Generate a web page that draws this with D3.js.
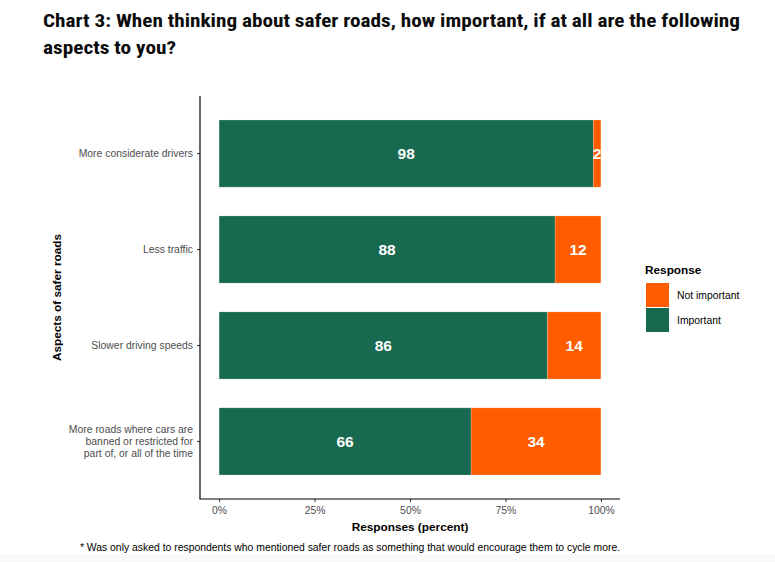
<!DOCTYPE html>
<html>
  <head>
  <title>Chart 3: Safer roads</title>
  <style>
    body, html {
      margin: 0;
      padding: 0;
      background: #fff;
    }
    #svg {
      display: block;
      font-family: "Liberation Sans", Arial, sans-serif;
    }
  </style>
  </head>
  <body>
    <svg id="svg" width="775" height="562"></svg>
  <script src="https://cdn.jsdelivr.net/npm/d3@7"></script>
  <script>
    // data
    const aspects = [
      "More considerate drivers",
      "Less traffic",
      "Slower driving speeds",
      "More roads where cars are banned or restricted for part of, or all of the time"
    ]
    const aspectLines = [
      ["More considerate drivers"],
      ["Less traffic"],
      ["Slower driving speeds"],
      ["More roads where cars are", "banned or restricted for", "part of, or all of the time"]
    ]
    const important = [98, 88, 86, 66]
    const notImportant = [2, 12, 14, 34]
    const xTicks = [0, 25, 50, 75, 100]
    const responses = ["Not important", "Important"]

    const green = "#176a50"
    const orange = "#ff5c00"

    function renderChart() {
      const svg = d3.select('#svg')

      const panel = { left: 200, right: 620, top: 96, bottom: 499 }

      const xScale = d3.scaleLinear()
        .domain([-5, 105])
        .range([panel.left, panel.right])

      const yScale = d3.scaleBand()
        .domain(aspects)
        .range([panel.top, panel.bottom])
        .paddingInner(0.3)
        .paddingOuter(0.25)

      const rows = aspects.map((a, i) => ({
        name: a,
        lines: aspectLines[i],
        important: important[i],
        notImportant: notImportant[i]
      }))

      // faint grey strip at bottom of page
      svg.append("rect")
        .attr("x", 0).attr("y", 554)
        .attr("width", 775).attr("height", 8)
        .attr("fill", "#fafafa")

      // title
      const titleFont = "'Roboto Condensed', 'Roboto', 'Noto Sans', sans-serif"
      svg.append("text")
        .attr("x", 43).attr("y", 27)
        .style("font-family", titleFont)
        .style("font-weight", "bold")
        .style("font-size", "18.5px")
        .attr("fill", "#0b0c0c")
        .attr("textLength", 697)
        .attr("lengthAdjust", "spacingAndGlyphs")
        .text("Chart 3: When thinking about safer roads, how important, if at all are the following")
      svg.append("text")
        .attr("x", 43).attr("y", 54)
        .style("font-family", titleFont)
        .style("font-weight", "bold")
        .style("font-size", "18.5px")
        .attr("fill", "#0b0c0c")
        .attr("textLength", 133)
        .attr("lengthAdjust", "spacingAndGlyphs")
        .text("aspects to you?")

      // bars: important segment
      svg.selectAll(".bar-imp")
        .data(rows)
        .enter().append("rect")
        .attr("class", "bar-imp")
        .attr("x", xScale(0))
        .attr("y", d => yScale(d.name))
        .attr("width", d => xScale(d.important) - xScale(0))
        .attr("height", yScale.bandwidth())
        .attr("fill", green)
        .attr("stroke", "#ffffff")
        .attr("stroke-opacity", 0.35)
        .attr("stroke-width", 0.6)

      // bars: not important segment
      svg.selectAll(".bar-not")
        .data(rows)
        .enter().append("rect")
        .attr("class", "bar-not")
        .attr("x", d => xScale(d.important))
        .attr("y", d => yScale(d.name))
        .attr("width", d => xScale(100) - xScale(d.important))
        .attr("height", yScale.bandwidth())
        .attr("fill", orange)
        .attr("stroke", "#ffffff")
        .attr("stroke-opacity", 0.35)
        .attr("stroke-width", 0.6)

      // value labels
      svg.selectAll(".lab-imp")
        .data(rows)
        .enter().append("text")
        .attr("x", d => xScale(d.important / 2))
        .attr("y", d => yScale(d.name) + yScale.bandwidth() / 2 + 5.5)
        .attr("text-anchor", "middle")
        .attr("fill", "#fff")
        .style("font-weight", "bold")
        .style("font-size", "15.5px")
        .text(d => d.important)

      svg.selectAll(".lab-not")
        .data(rows)
        .enter().append("text")
        .attr("x", d => xScale(d.important + d.notImportant / 2))
        .attr("y", d => yScale(d.name) + yScale.bandwidth() / 2 + 5.5)
        .attr("text-anchor", "middle")
        .attr("fill", "#fff")
        .style("font-weight", "bold")
        .style("font-size", "15.5px")
        .text(d => d.notImportant)

      // x axis
      const xAxis = svg.append("g")
        .attr("transform", `translate(0, ${panel.bottom})`)
        .call(d3.axisBottom(xScale).tickValues(xTicks).tickFormat(d => d + "%").tickSize(3).tickSizeOuter(0))
      xAxis.select(".domain").remove()
      xAxis.selectAll(".tick line").attr("stroke", "#333").attr("stroke-width", 1)
      xAxis.selectAll(".tick text")
        .attr("y", 8)
        .attr("dy", "0.71em")
        .attr("fill", "#4d4d4d")
        .style("font-family", "'Liberation Sans', Arial, sans-serif")
        .style("font-size", "10.4px")

      // y axis
      const yAxis = svg.append("g")
        .attr("transform", `translate(${panel.left}, 0)`)
        .call(d3.axisLeft(yScale).tickSize(3).tickFormat(""))
      yAxis.select(".domain").remove()
      yAxis.selectAll(".tick line").attr("stroke", "#333").attr("stroke-width", 1)

      // y tick labels (multi-line)
      const yLabels = svg.selectAll(".ylab")
        .data(rows)
        .enter().append("text")
        .attr("class", "ylab")
        .attr("text-anchor", "end")
        .attr("fill", "#4d4d4d")
        .style("font-size", "10.4px")
      yLabels.each(function(d) {
        const n = d.lines.length
        const cy = yScale(d.name) + yScale.bandwidth() / 2
        d3.select(this).selectAll("tspan")
          .data(d.lines)
          .enter().append("tspan")
          .attr("x", panel.left - 7)
          .attr("y", (l, i) => cy + 3.8 + (i - (n - 1) / 2) * 12)
          .text(l => l)
      })

      // axis lines
      svg.append("line")
        .attr("x1", panel.left).attr("x2", panel.left)
        .attr("y1", panel.top).attr("y2", panel.bottom)
        .attr("stroke", "#000").attr("stroke-width", 1.2)
      svg.append("line")
        .attr("x1", panel.left - 0.6).attr("x2", panel.right)
        .attr("y1", panel.bottom).attr("y2", panel.bottom)
        .attr("stroke", "#000").attr("stroke-width", 1.2)

      // axis titles
      svg.append("text")
        .attr("x", (panel.left + panel.right) / 2)
        .attr("y", 531)
        .attr("text-anchor", "middle")
        .style("font-weight", "bold")
        .style("font-size", "11.8px")
        .text("Responses (percent)")

      svg.append("text")
        .attr("transform", `translate(61, ${(panel.top + panel.bottom) / 2}) rotate(-90)`)
        .attr("text-anchor", "middle")
        .style("font-weight", "bold")
        .style("font-size", "11.8px")
        .text("Aspects of safer roads")

      // footnote
      svg.append("text")
        .attr("x", 350)
        .attr("y", 551)
        .attr("text-anchor", "middle")
        .style("font-size", "10.4px")
        .text("* Was only asked to respondents who mentioned safer roads as something that would encourage them to cycle more.")

      // legend
      const legend = svg.append("g")
        .attr("transform", "translate(645, 274)")

      legend.append("text")
        .attr("x", 0).attr("y", 0)
        .style("font-weight", "bold")
        .style("font-size", "11.8px")
        .text("Response")

      legend.selectAll("rect")
        .data(responses)
        .enter().append("rect")
        .attr("x", 1)
        .attr("y", (d, i) => 9 + i * 25)
        .attr("width", 23)
        .attr("height", 24)
        .attr("fill", d => d === "Important" ? green : orange)

      legend.selectAll(".leg-lab")
        .data(responses)
        .enter().append("text")
        .attr("x", 32)
        .attr("y", (d, i) => 24.5 + i * 25)
        .style("font-size", "10.4px")
        .text(d => d)
    }
    renderChart()
  </script>
  </body>
</html>
